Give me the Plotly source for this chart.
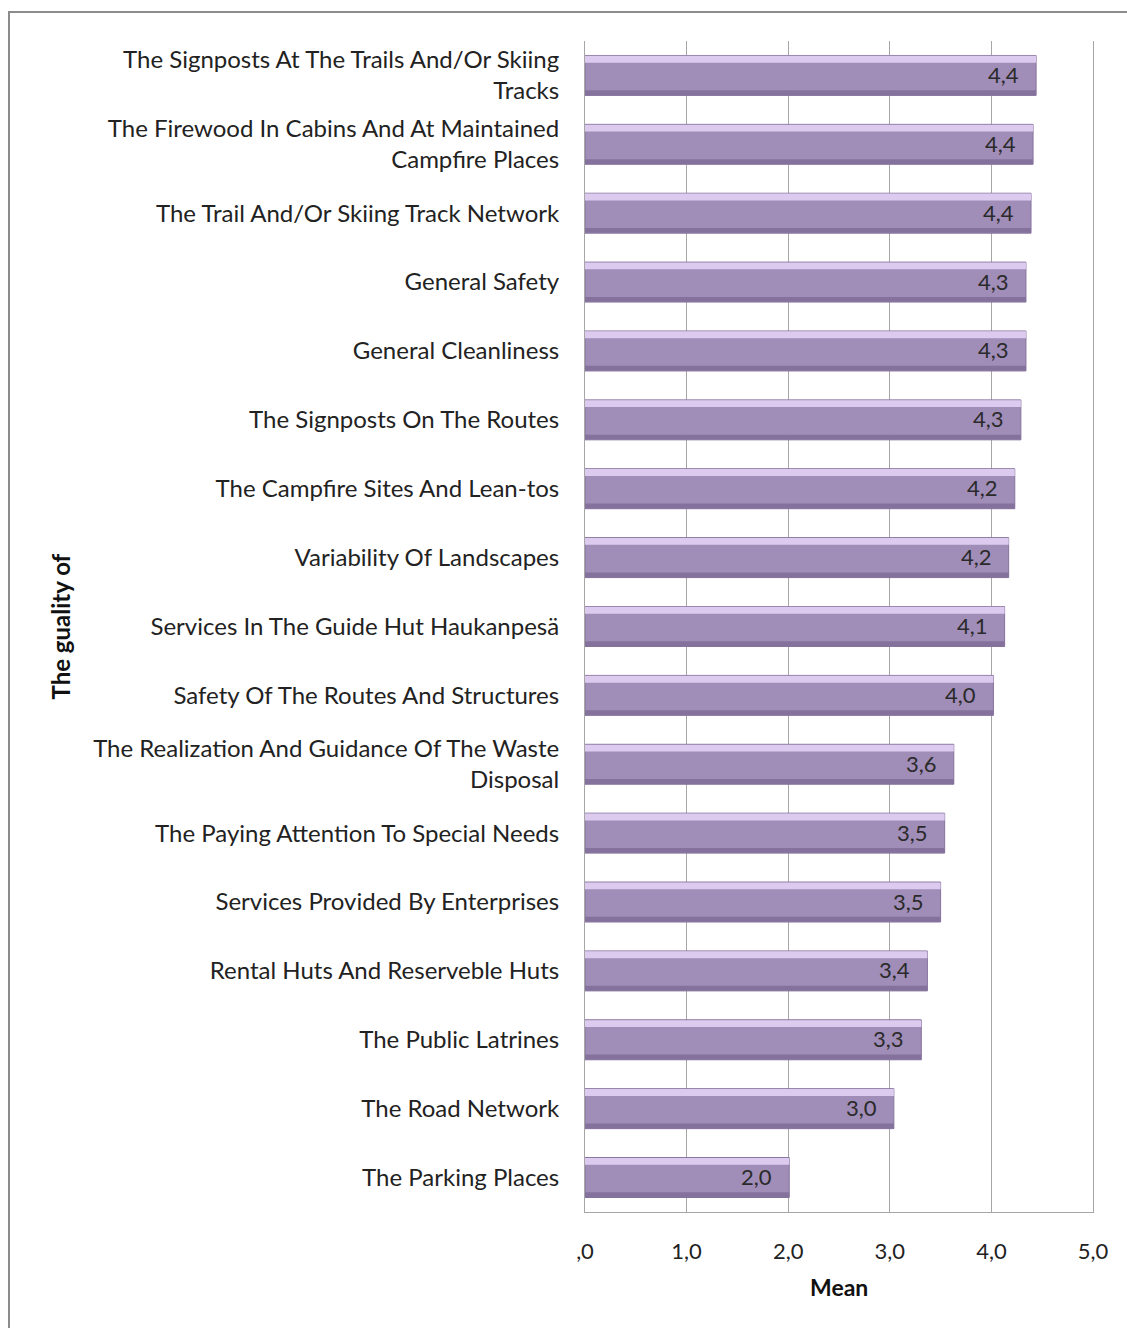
import plotly.graph_objects as go

categories = [
    "The Signposts At The Trails And/Or Skiing<br>Tracks",
    "The Firewood In Cabins And At Maintained<br>Campfire Places",
    "The Trail And/Or Skiing Track Network",
    "General Safety",
    "General Cleanliness",
    "The Signposts On The Routes",
    "The Campfire Sites And Lean-tos",
    "Variability Of Landscapes",
    "Services In The Guide Hut Haukanpesä",
    "Safety Of The Routes And Structures",
    "The Realization And Guidance Of The Waste<br>Disposal",
    "The Paying Attention To Special Needs",
    "Services Provided By Enterprises",
    "Rental Huts And Reserveble Huts",
    "The Public Latrines",
    "The Road Network",
    "The Parking Places",
]
means = [4.44, 4.41, 4.39, 4.34, 4.34, 4.29, 4.23, 4.17, 4.13, 4.02,
         3.63, 3.54, 3.50, 3.37, 3.31, 3.04, 2.01]
tick_vals = [0, 1, 2, 3, 4, 5]
tick_text = [",0", "1,0", "2,0", "3,0", "4,0", "5,0"]

labels = [f"{v:.1f}".replace(".", ",") for v in means]

FONT = "Lato"
fig = go.Figure()
fig.add_trace(go.Bar(
    y=categories, x=means, orientation="h", width=0.58,
    marker=dict(color="#A08DB8", line=dict(color="#85729C", width=1)),
    hoverinfo="skip", showlegend=False,
))
# highlight strip on top edge
fig.add_trace(go.Bar(
    y=categories, x=means, orientation="h", width=0.1, offset=-0.285,
    marker=dict(color="#DCCBEE", line=dict(width=0)),
    hoverinfo="skip", showlegend=False,
))
# darker strip on bottom edge
fig.add_trace(go.Bar(
    y=categories, x=means, orientation="h", width=0.07, offset=0.215,
    marker=dict(color="#85729C", line=dict(width=0)),
    hoverinfo="skip", showlegend=False,
))

annotations = [
    dict(x=v, y=c, xref="x", yref="y", text=t, xanchor="right",
         yanchor="middle", xshift=-15, yshift=1, showarrow=False,
         font=dict(family=FONT, size=22, color="#2a2a2a"))
    for c, v, t in zip(categories, means, labels)
]
annotations += [
    dict(text="<b>Mean</b>", xref="paper", yref="paper",
         x=0.5, y=(1212 - 1287) / 1171, xanchor="center", yanchor="middle",
         showarrow=False, font=dict(family=FONT, size=23, color="#111")),
    dict(text="<b>The guality of</b>", xref="paper", yref="paper",
         x=(60 - 585) / 508, y=0.5, xanchor="center", yanchor="middle",
         textangle=-90, showarrow=False,
         font=dict(family=FONT, size=24, color="#111")),
]

fig.update_layout(
    width=1127, height=1328,
    margin=dict(l=585, r=34, t=41, b=116),
    paper_bgcolor="white", plot_bgcolor="white",
    barmode="overlay",
    font=dict(family=FONT, color="#222"),
    xaxis=dict(
        range=[0, 5], tickvals=tick_vals, ticktext=tick_text,
        showgrid=True, gridcolor="#A6A6A6", gridwidth=1,
        showline=True, linecolor="#A6A6A6", linewidth=1,
        zeroline=False, ticks="", ticklabelstandoff=20,
        tickfont=dict(family=FONT, size=22, color="#222"),
    ),
    yaxis=dict(
        autorange="reversed", showgrid=False,
        showline=True, mirror=True, linecolor="#A6A6A6", linewidth=1,
        ticks="", ticklabelstandoff=20,
        tickfont=dict(family=FONT, size=24, color="#222"),
    ),
    annotations=annotations,
    shapes=[
        dict(type="rect", xref="paper", yref="paper",
             x0=(9 - 585) / 508, y0=-1.0, x1=2.0, y1=(1212 - 12) / 1171,
             line=dict(color="#8C8C8C", width=2), fillcolor="rgba(0,0,0,0)"),
    ],
)

fig.write_html("out.html")
